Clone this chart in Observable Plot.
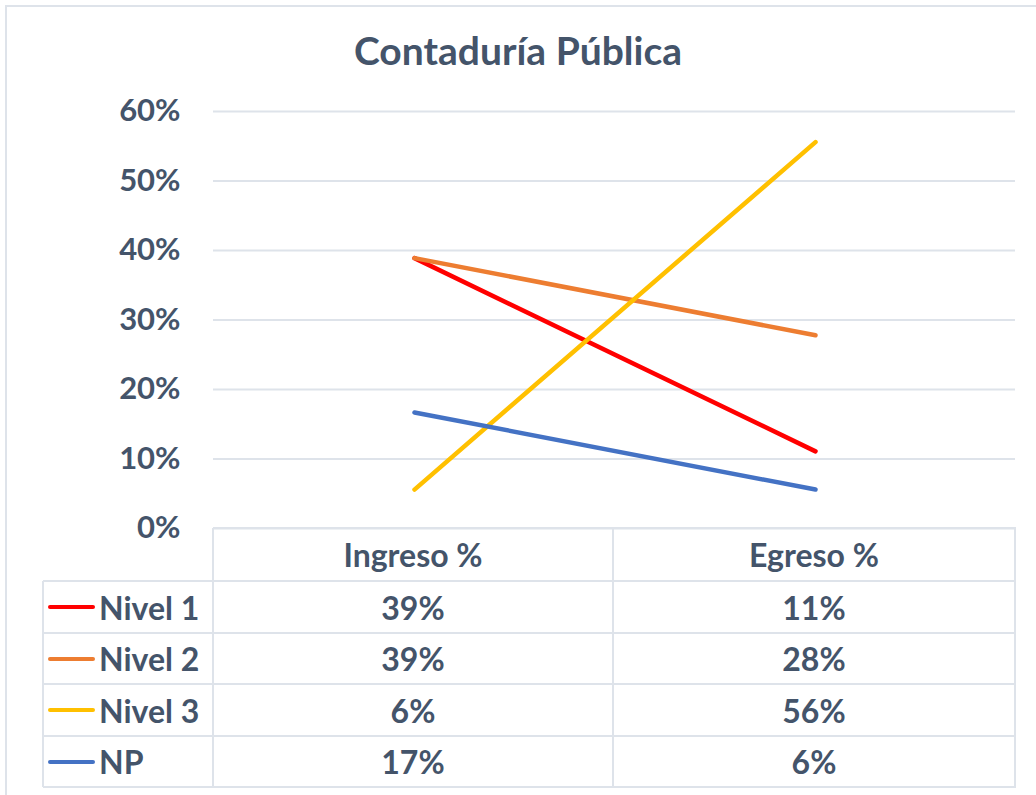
<!DOCTYPE html>
<html>
<head>
<meta charset="utf-8">
<script src="https://cdn.jsdelivr.net/npm/d3@7"></script>
<script src="https://cdn.jsdelivr.net/npm/@observablehq/plot@0.6"></script>
<style>
  html, body { margin: 0; padding: 0; background: #fff; overflow: hidden; }
  #wrap { position: relative; width: 1036px; height: 795px; font-family: Lato, "Open Sans", sans-serif; font-weight: bold; color: #44546A; }
  #frame { position: absolute; left: 5px; top: 5px; width: 1100px; height: 900px; border: 2px solid #DEE3EA; box-sizing: border-box; }
  #title { position: absolute; left: 0; top: 27px; width: 1036px; text-align: center; font-size: 39px; line-height: 46px; }
  #chart { position: absolute; left: 0; top: 0; }
  .cell { position: absolute; box-sizing: border-box; display: flex; align-items: center; justify-content: center; font-size: 32px; }
  .hline { position: absolute; height: 2px; background: #DEE3EA; }
  .vline { position: absolute; width: 2px; background: #DEE3EA; }
  .key { position: absolute; height: 4px; border-radius: 2px; }
  .lab { position: absolute; font-size: 32px; display: flex; align-items: center; }
</style>
</head>
<body>
<div id="wrap">
  <div id="frame"></div>
  <div id="title">Contaduría Pública</div>
  <div id="chart"></div>
</div>
<script>
const categories = ["Ingreso %", "Egreso %"];
const seriesNames = ["Nivel 1", "Nivel 2", "Nivel 3", "NP"];
const seriesColors = ["#FF0000", "#ED7D31", "#FFC000", "#4472C4"];
const nivel1 = [38.9, 11.1];
const nivel2 = [38.9, 27.8];
const nivel3 = [5.6, 55.6];
const np = [16.7, 5.6];
const yTicks = [0, 10, 20, 30, 40, 50, 60];

const seriesValues = [nivel1, nivel2, nivel3, np];
const data = [];
seriesNames.forEach((s, i) => categories.forEach((c, j) => data.push({series: s, cat: c, value: seriesValues[i][j] / 100})));

const chart = Plot.plot({
  width: 1036,
  height: 540,
  marginTop: 111,
  marginBottom: 12,
  marginLeft: 213,
  marginRight: 21,
  style: {fontFamily: "Lato, 'Open Sans', sans-serif", fontWeight: "bold", fontSize: "31px", color: "#44546A", background: "transparent", overflow: "visible"},
  x: {type: "point", domain: categories, padding: 0.5, axis: null},
  y: {domain: [0, 0.6]},
  color: {domain: seriesNames, range: seriesColors},
  marks: [
    Plot.gridY(yTicks.map(d => d / 100), {stroke: "#DEE3EA", strokeOpacity: 1, strokeWidth: 2}),
    Plot.axisY(yTicks.map(d => d / 100), {tickSize: 0, tickPadding: 33, tickFormat: d => Math.round(d * 100) + "%", fill: "#44546A", fontSize: 31, fontWeight: "bold", label: null}),
    Plot.lineY(data, {x: "cat", y: "value", z: "series", stroke: "series", strokeWidth: 4.5, strokeLinecap: "round"})
  ]
});
document.getElementById("chart").appendChild(chart);

// data table below the plot
const wrap = document.getElementById("wrap");
const colX = [43, 213, 613, 1015];
const rowY = [528, 581, 633, 684, 736, 787];
function add(cls, styles, text) {
  const d = document.createElement("div");
  d.className = cls;
  Object.assign(d.style, styles);
  if (text != null) d.textContent = text;
  wrap.appendChild(d);
  return d;
}
// header cells
categories.forEach((c, j) => add("cell", {left: colX[j + 1] + "px", top: rowY[0] + "px", width: (colX[j + 2] - colX[j + 1]) + "px", height: (rowY[1] - rowY[0]) + "px"}, c));
// body rows
seriesNames.forEach((s, i) => {
  const top = rowY[i + 1], h = rowY[i + 2] - rowY[i + 1];
  add("key", {left: "48px", width: "47px", top: (top + h / 2 - 2) + "px", background: seriesColors[i]});
  add("lab", {left: "99px", top: top + "px", height: h + "px"}, s);
  categories.forEach((c, j) => add("cell", {left: colX[j + 1] + "px", top: top + "px", width: (colX[j + 2] - colX[j + 1]) + "px", height: h + "px"}, Math.round(seriesValues[i][j]) + "%"));
});
// grid lines of table
add("hline", {left: colX[1] + "px", top: (rowY[0] - 1) + "px", width: (colX[3] - colX[1] + 1) + "px"});
for (let r = 1; r < rowY.length; r++) add("hline", {left: colX[0] + "px", top: (rowY[r] - 1) + "px", width: (colX[3] - colX[0] + 1) + "px"});
add("vline", {left: (colX[0] - 1) + "px", top: rowY[1] + "px", height: (rowY[5] - rowY[1]) + "px"});
add("vline", {left: (colX[1] - 1) + "px", top: rowY[0] + "px", height: (rowY[5] - rowY[0]) + "px"});
add("vline", {left: (colX[2] - 1) + "px", top: rowY[0] + "px", height: (rowY[5] - rowY[0]) + "px"});
add("vline", {left: (colX[3] - 1) + "px", top: rowY[0] + "px", height: (rowY[5] - rowY[0]) + "px"});
</script>
</body>
</html>
